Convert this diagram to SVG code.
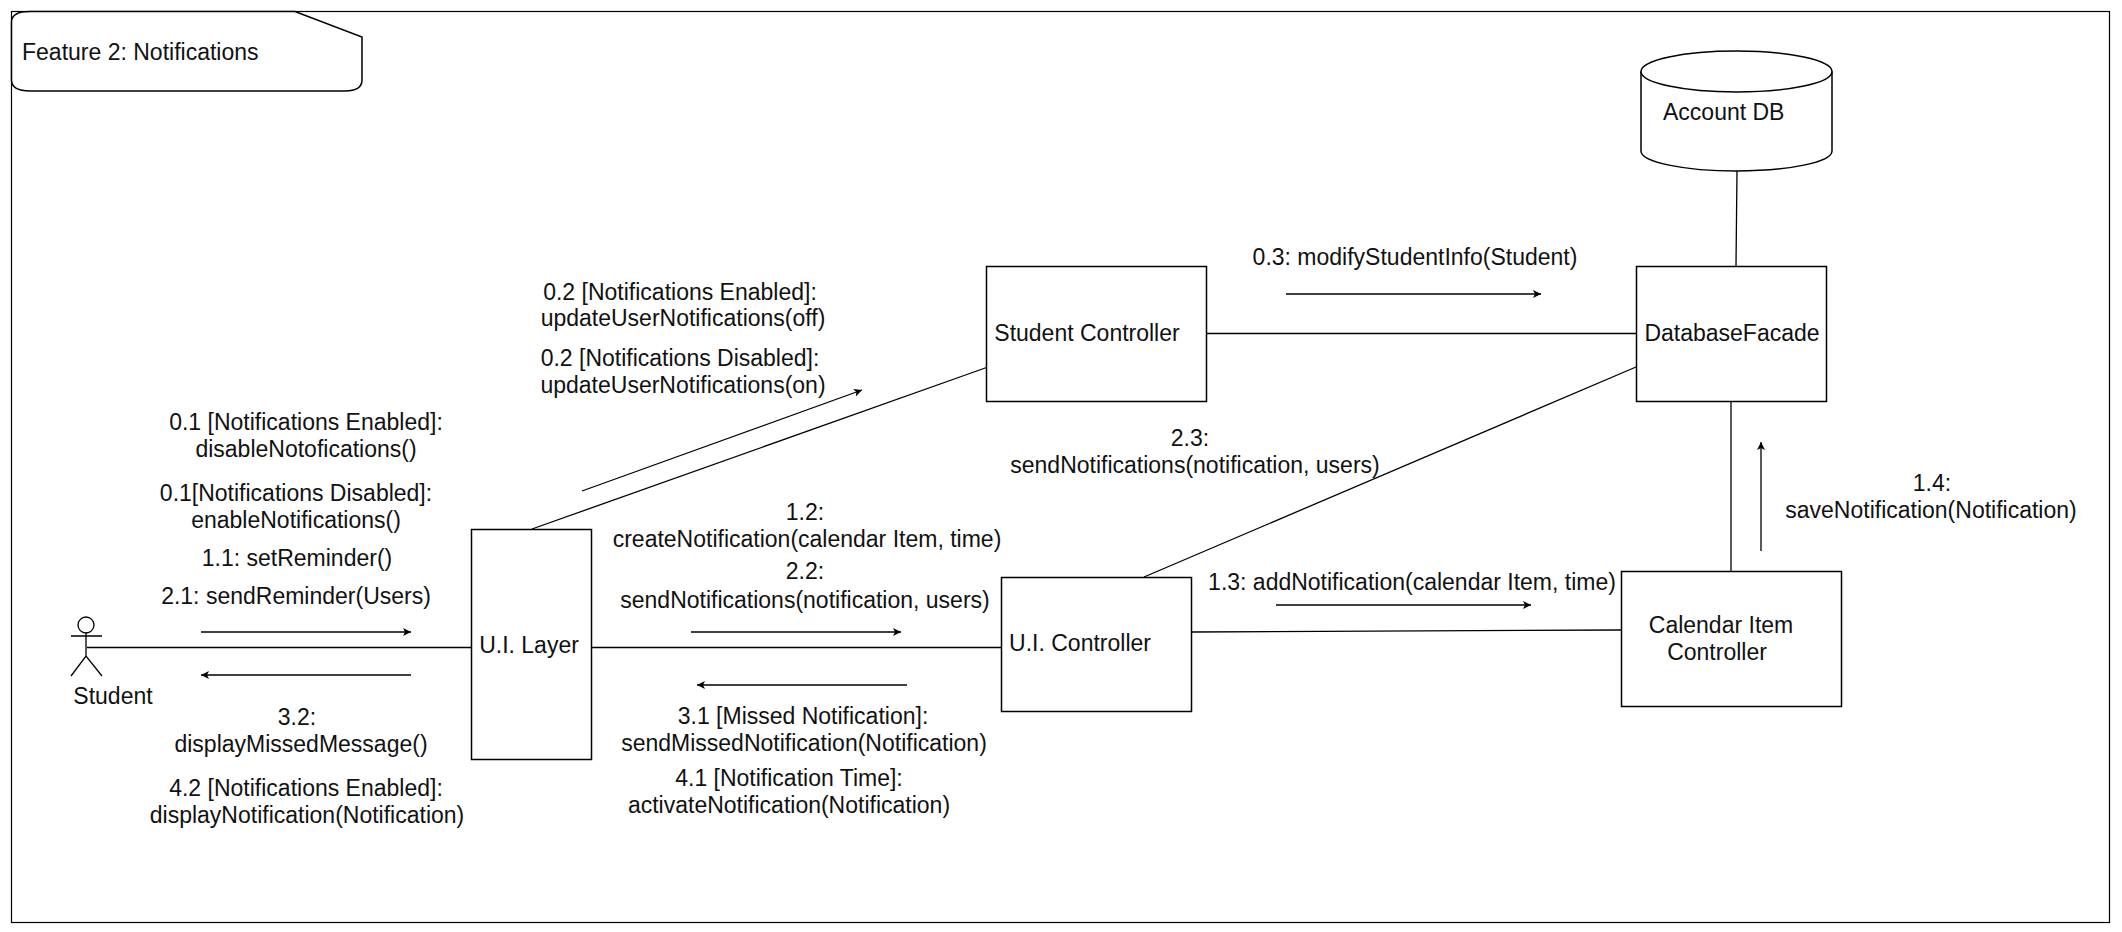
<svg xmlns="http://www.w3.org/2000/svg" width="2122" height="932" viewBox="0 0 2122 932">
<style>
text{font-family:"Liberation Sans",Arial,sans-serif;font-size:23px;fill:#111;text-anchor:middle}
.s{text-anchor:start}
.b{fill:#fff;stroke:#000;stroke-width:1.5}
.l{fill:none;stroke:#000;stroke-width:1.3}
.a{fill:none;stroke:#000;stroke-width:1.3;marker-end:url(#ah)}
</style>
<defs><marker id="ah" markerUnits="userSpaceOnUse" markerWidth="10" markerHeight="8" refX="8" refY="4" orient="auto"><path d="M0 0L8 4L0 8L2 4Z" fill="#000"/></marker></defs>
<rect width="2122" height="932" fill="#fff"/>
<rect id="frame" x="11.500" y="11.500" width="2098" height="911" fill="none" stroke="#000" stroke-width="1.200"/>
<g id="connectors">
<path class="l" d="M87 647.500H471"/>
<path class="l" d="M532 529L988 367"/>
<path class="l" d="M592 647.500H1001"/>
<path class="l" d="M1207 333.500H1636"/>
<path class="l" d="M1144 577L1636 367"/>
<path class="l" d="M1192 632L1621 630"/>
<path class="l" d="M1731 401V571"/>
<path class="l" d="M1737 171L1736 266"/>
<path class="a" d="M201 632H411"/>
<path class="a" d="M411 675H201"/>
<path class="a" d="M582 491L862 390"/>
<path class="a" d="M691 632H901"/>
<path class="a" d="M907 685H697"/>
<path class="a" d="M1286 294H1541"/>
<path class="a" d="M1276 605H1531"/>
<path class="a" d="M1761 551V442"/>
</g>
<g id="note"><path class="b" d="M11.500 22Q11.500 11.500 30 11.500H295L362 37V80Q362 91 345 91H30Q11.500 91 11.500 80Z"/><text class="s" x="22" y="60">Feature 2: Notifications</text></g>
<g id="db"><path class="b" d="M1641 71.500C1641 60 1684 51 1736.500 51S1832 60 1832 71.500V151C1832 162 1789 171 1736.500 171S1641 162 1641 151Z"/><path class="l" style="stroke-width:1.500" d="M1641 71.500C1641 83 1684 92 1736.500 92S1832 83 1832 71.500"/><text class="s" x="1663" y="120">Account DB</text></g>
<g id="student-controller"><rect class="b" x="986.500" y="266.500" width="220" height="135"/><text x="1087" y="341">Student Controller</text></g>
<g id="database-facade"><rect class="b" x="1636.500" y="266.500" width="190" height="135"/><text x="1732" y="341">DatabaseFacade</text></g>
<g id="ui-layer"><rect class="b" x="471.500" y="529.500" width="120" height="230"/><text x="529" y="653">U.I. Layer</text></g>
<g id="ui-controller"><rect class="b" x="1001.500" y="577.500" width="190" height="134"/><text x="1080" y="651">U.I. Controller</text></g>
<g id="calendar"><rect class="b" x="1621.500" y="571.500" width="220" height="135"/><text x="1721" y="633">Calendar Item</text><text x="1717" y="660">Controller</text></g>
<g id="student"><circle class="l" cx="86" cy="625" r="8"/><path class="l" d="M86 633V656M71 636H102M71 676L86 656L102 676"/><text x="113" y="704">Student</text></g>
<g id="labels">
<text x="306" y="430">0.1 [Notifications Enabled]:</text><text x="306" y="457">disableNotofications()</text>
<text x="296" y="501">0.1[Notifications Disabled]:</text><text x="296" y="528">enableNotifications()</text>
<text x="297" y="566">1.1: setReminder()</text>
<text x="296" y="604">2.1: sendReminder(Users)</text>
<text x="297" y="725">3.2:</text><text x="301" y="752">displayMissedMessage()</text>
<text x="306" y="796">4.2 [Notifications Enabled]:</text><text x="307" y="823">displayNotification(Notification)</text>
<text x="680" y="300">0.2 [Notifications Enabled]:</text><text x="683" y="326">updateUserNotifications(off)</text>
<text x="680" y="366">0.2 [Notifications Disabled]:</text><text x="683" y="393">updateUserNotifications(on)</text>
<text x="805" y="520">1.2:</text><text x="807" y="547">createNotification(calendar Item, time)</text>
<text x="805" y="579">2.2:</text><text x="805" y="608">sendNotifications(notification, users)</text>
<text x="803" y="724">3.1 [Missed Notification]:</text><text x="804" y="751">sendMissedNotification(Notification)</text>
<text x="789" y="786">4.1 [Notification Time]:</text><text x="789" y="813">activateNotification(Notification)</text>
<text x="1415" y="265">0.3: modifyStudentInfo(Student)</text>
<text x="1190" y="446">2.3:</text><text x="1195" y="473">sendNotifications(notification, users)</text>
<text x="1412" y="590">1.3: addNotification(calendar Item, time)</text>
<text x="1932" y="491">1.4:</text><text x="1931" y="518">saveNotification(Notification)</text>
</g>
</svg>
